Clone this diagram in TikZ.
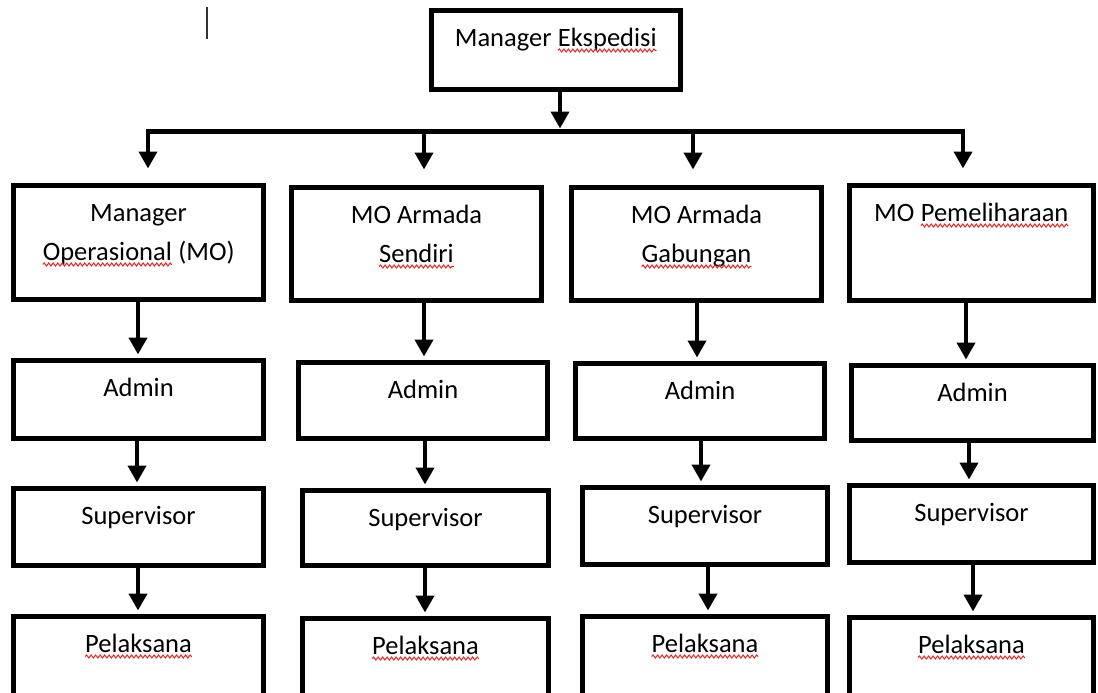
\documentclass[tikz,border=0pt]{standalone}
\usepackage{fontspec}
\setmainfont{Carlito}
\usetikzlibrary{arrows.meta,decorations.pathmorphing}
\tikzset{
  box/.style={draw=black,line width=5pt,fill=white,rectangle,inner sep=0pt,outer sep=0pt},
  lbl/.style={anchor=base,inner sep=0pt,outer sep=0pt,text=black,font=\fontsize{26.5}{39}\selectfont},
  arr/.style={draw=black,line width=4pt,-{Triangle[width=18pt,length=17pt]},shorten >=6pt},
  bus/.style={draw=black,line width=5pt},
  squig/.style={draw={rgb,255:red,235;green,35;blue,35},line width=1pt,decorate,
    decoration={snake,amplitude=1.5pt,segment length=4.5pt}},
  cursorline/.style={draw=black!80,line width=1.3pt}
}
\newcommand\sq[1]{\tikz[baseline=(sqw.base)]{\node[inner sep=0pt,outer sep=0pt](sqw){#1};\draw[squig]([yshift=-4pt]sqw.base west)--([yshift=-4pt]sqw.base east);}}
\newcommand\link[3]{\coordinate (lk) at (#3,0); \draw[arr] (#1.south -| lk) -- (#2.north -| lk);}
\newcommand\twol[2]{\begin{tabular}[t]{@{}c@{}}#1\\#2\end{tabular}}
\begin{document}
\begin{tikzpicture}[x=1pt,y=-1pt]
\useasboundingbox (0,0) rectangle (1098,693);
\clip (0,0) rectangle (1098,693);
% cursor
\coordinate (cu1) at (207,7);
\coordinate (cu2) at (207,39);
\draw[cursorline] (cu1) -- (cu2);
% top box
\node[box,minimum width=249pt,minimum height=79pt] (top) at (556,50) {};
% row 1
\node[box,minimum width=250pt,minimum height=114pt] (R1) at (138.5,242.5) {};
\node[box,minimum width=250pt,minimum height=113pt] (R2) at (416.5,244) {};
\node[box,minimum width=250pt,minimum height=113pt] (R3) at (696.5,244) {};
\node[box,minimum width=244pt,minimum height=115pt] (R4) at (971.5,243) {};
% admin
\node[box,minimum width=250pt,minimum height=78pt] (A1) at (138.5,399.5) {};
\node[box,minimum width=249pt,minimum height=76pt] (A2) at (423,400.5) {};
\node[box,minimum width=249pt,minimum height=75pt] (A3) at (700,401) {};
\node[box,minimum width=242pt,minimum height=75pt] (A4) at (972.5,403) {};
% supervisor
\node[box,minimum width=250pt,minimum height=77pt] (S1) at (138.5,527) {};
\node[box,minimum width=246pt,minimum height=75pt] (S2) at (425.5,528) {};
\node[box,minimum width=245pt,minimum height=77pt] (S3) at (705,526) {};
\node[box,minimum width=244pt,minimum height=77pt] (S4) at (971.5,524) {};
% pelaksana
\node[box,minimum width=250pt,minimum height=81pt] (P1) at (138.5,657) {};
\node[box,minimum width=246pt,minimum height=79pt] (P2) at (425.5,658) {};
\node[box,minimum width=245pt,minimum height=81pt] (P3) at (705,657) {};
\node[box,minimum width=244pt,minimum height=80pt] (P4) at (971.5,657.5) {};
% labels
\node[lbl] (ttop) at ([yshift=-36pt]top.north) {Manager \sq{Ekspedisi}};
\node[lbl] (tR1) at ([yshift=-36pt]R1.north) {\twol{Manager}{\sq{Operasional} (MO)}};
\node[lbl] (tR2) at ([yshift=-36pt]R2.north) {\twol{MO Armada}{\sq{Sendiri}}};
\node[lbl] (tR3) at ([yshift=-36pt]R3.north) {\twol{MO Armada}{\sq{Gabungan}}};
\node[lbl] (tR4) at ([yshift=-36pt]R4.north) {MO \sq{Pemeliharaan}};
\foreach \i in {1,2,3,4}{
  \node[lbl] (tA\i) at ([yshift=-36pt]A\i.north) {Admin};
  \node[lbl] (tS\i) at ([yshift=-36pt]S\i.north) {Supervisor};
  \node[lbl] (tP\i) at ([yshift=-36pt]P\i.north) {\sq{Pelaksana}};
}
% trunk and bus
\coordinate (bm) at (560,128.5);
\coordinate (busL) at (146,131);
\coordinate (busR) at (965,131);
\draw[arr,shorten >=0pt] (top.south -| bm) -- (bm);
\draw[bus] (busL) -- (busR);
\coordinate (d1) at (148,128.5);
\coordinate (d2) at (424,128.5);
\coordinate (d3) at (693,128.5);
\coordinate (d4) at (963,128.5);
\draw[arr,shorten >=17pt] (d1) -- (R1.north -| d1);
\draw[arr,shorten >=18pt] (d2) -- (R2.north -| d2);
\draw[arr,shorten >=18pt] (d3) -- (R3.north -| d3);
\draw[arr,shorten >=17pt] (d4) -- (R4.north -| d4);
% column links
\link{R1}{A1}{138}
\link{A1}{S1}{137}
\link{S1}{P1}{138}
\link{R2}{A2}{424}
\link{A2}{S2}{425}
\link{S2}{P2}{425}
\link{R3}{A3}{697}
\link{A3}{S3}{701}
\link{S3}{P3}{708}
\link{R4}{A4}{966}
\link{A4}{S4}{969}
\link{S4}{P4}{973}
\end{tikzpicture}
\end{document}
